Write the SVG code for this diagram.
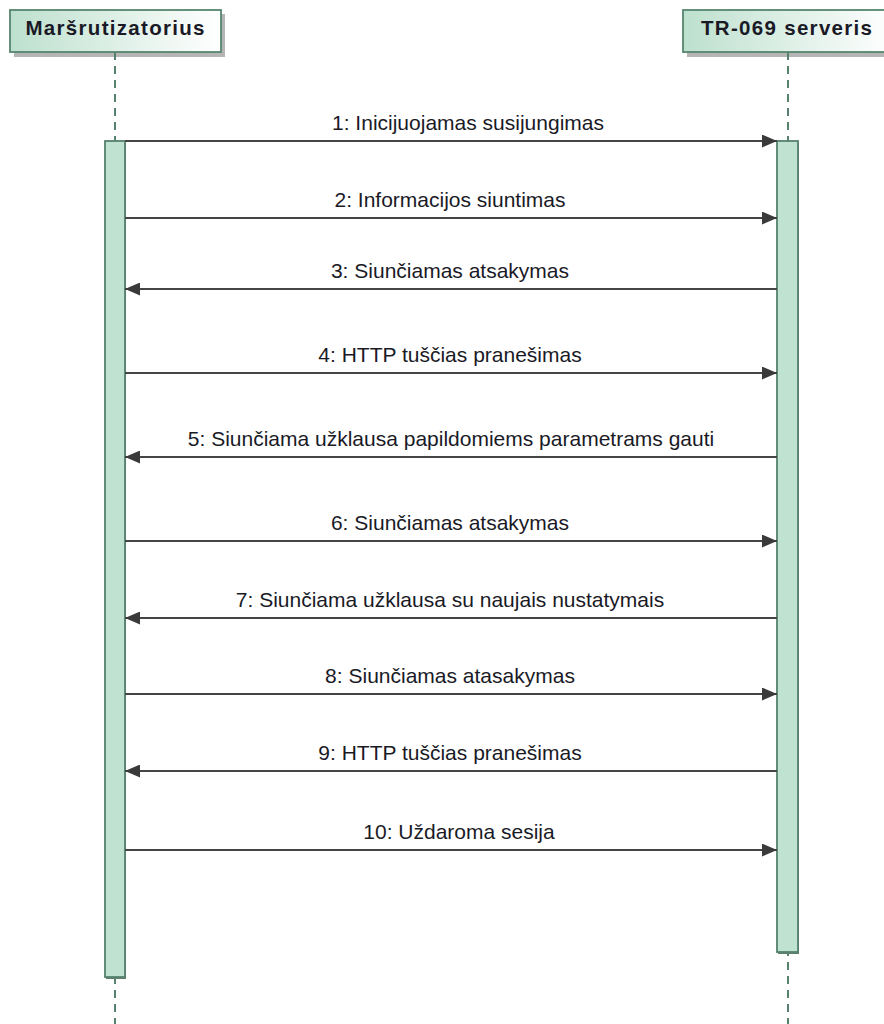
<svg xmlns="http://www.w3.org/2000/svg" width="884" height="1024" viewBox="0 0 884 1024">
  <defs>
    <linearGradient id="headFill" x1="0" y1="0" x2="1" y2="0">
      <stop offset="0" stop-color="#bde0ce"/>
      <stop offset="1" stop-color="#ffffff"/>
    </linearGradient>
    <marker id="arrow" viewBox="0 0 15 13" refX="15" refY="6.5" markerWidth="15" markerHeight="13" markerUnits="userSpaceOnUse" orient="auto">
      <path d="M0,0 L15,6.5 L0,13 Z" fill="#3a3a3a"/>
    </marker>
  </defs>
  <style>
    .head { fill: url(#headFill); stroke: #56856f; stroke-width: 1.8; }
    .shadow { fill: #b5b5b5; }
    .headText { font-family: "Liberation Sans", Arial, sans-serif; font-weight: bold; font-size: 20.5px; fill: #1a1a26; text-anchor: middle; }
    .lifeline { stroke: #56826e; stroke-width: 2; stroke-dasharray: 8 6; fill: none; }
    .act { fill: #c0e2d1; stroke: #56826e; stroke-width: 1.8; }
    .actShadow { fill: #5f806f; }
    .msg { stroke: #454545; stroke-width: 2; fill: none; marker-end: url(#arrow); }
    .label { font-family: "Liberation Sans", Arial, sans-serif; font-size: 21px; fill: #1a1a26; text-anchor: middle; }
  </style>
  <rect width="884" height="1024" fill="#ffffff"/>

  <!-- Participant: router -->
  <g id="router">
    <rect class="shadow" x="14" y="14" width="211" height="43"/>
    <rect class="head" x="10" y="10" width="211" height="42"/>
    <text class="headText" x="115" y="35" textLength="179" lengthAdjust="spacing">Maršrutizatorius</text>
    <line class="lifeline" x1="115" y1="52" x2="115" y2="1024"/>
    <rect class="actShadow" x="106" y="143" width="20" height="836"/>
    <rect class="act" x="105" y="141" width="20" height="836"/>
  </g>

  <!-- Participant: TR-069 server -->
  <g id="tr069">
    <rect class="shadow" x="687" y="14" width="211" height="43"/>
    <rect class="head" x="683" y="10" width="211" height="42"/>
    <text class="headText" x="786.5" y="35" textLength="171" lengthAdjust="spacing">TR-069 serveris</text>
    <line class="lifeline" x1="788" y1="52" x2="788" y2="1024"/>
    <rect class="actShadow" x="778" y="143" width="21" height="811"/>
    <rect class="act" x="777" y="141" width="21" height="811"/>
  </g>

  <!-- Messages -->
  <g id="messages">
    <line class="msg" x1="125" y1="141" x2="777" y2="141"/>
    <text class="label" x="468" y="130">1: Inicijuojamas susijungimas</text>

    <line class="msg" x1="125" y1="218" x2="777" y2="218"/>
    <text class="label" x="450" y="207">2: Informacijos siuntimas</text>

    <line class="msg" x1="777" y1="289" x2="125" y2="289"/>
    <text class="label" x="450" y="278">3: Siunčiamas atsakymas</text>

    <line class="msg" x1="125" y1="373" x2="777" y2="373"/>
    <text class="label" x="450" y="362">4: HTTP tuščias pranešimas</text>

    <line class="msg" x1="777" y1="457" x2="125" y2="457"/>
    <text class="label" x="451" y="446">5: Siunčiama užklausa papildomiems parametrams gauti</text>

    <line class="msg" x1="125" y1="541" x2="777" y2="541"/>
    <text class="label" x="450" y="530">6: Siunčiamas atsakymas</text>

    <line class="msg" x1="777" y1="618" x2="125" y2="618"/>
    <text class="label" x="450" y="607">7: Siunčiama užklausa su naujais nustatymais</text>

    <line class="msg" x1="125" y1="694" x2="777" y2="694"/>
    <text class="label" x="450" y="683">8: Siunčiamas atasakymas</text>

    <line class="msg" x1="777" y1="771" x2="125" y2="771"/>
    <text class="label" x="450" y="760">9: HTTP tuščias pranešimas</text>

    <line class="msg" x1="125" y1="850" x2="777" y2="850"/>
    <text class="label" x="459" y="839">10: Uždaroma sesija</text>
  </g>
</svg>
